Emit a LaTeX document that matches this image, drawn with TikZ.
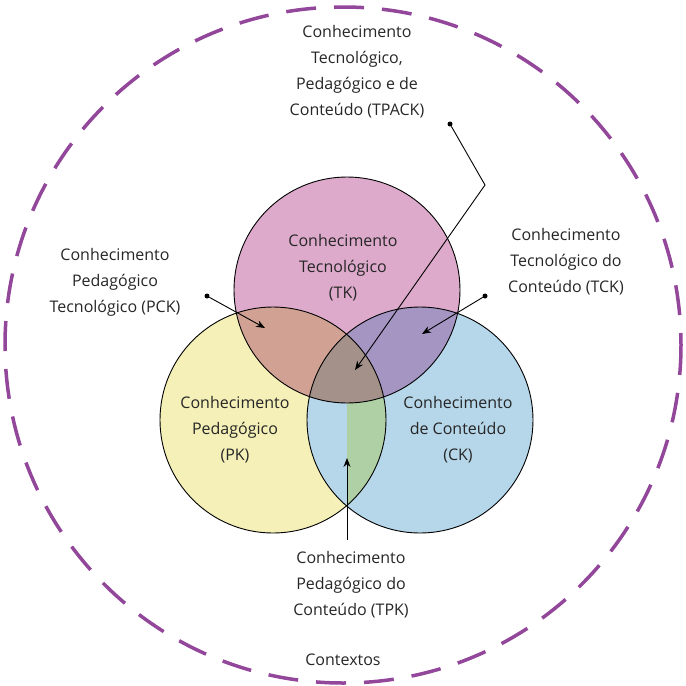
\documentclass[tikz,border=0pt]{standalone}
\usepackage{fontspec}
\setmainfont{Open Sans}
\usetikzlibrary{arrows.meta}
\definecolor{tkfill}{RGB}{222,170,203}
\definecolor{pkfill}{RGB}{244,240,183}
\definecolor{ckfill}{RGB}{182,214,233}
\definecolor{tpfill}{RGB}{209,161,148}
\definecolor{tcfill}{RGB}{164,149,195}
\definecolor{pcfill}{RGB}{175,208,165}
\definecolor{allfill}{RGB}{163,145,138}
\definecolor{ctxline}{RGB}{147,71,154}
\tikzset{
  lbl/.style={align=center, font=\fontsize{16}{26}\selectfont, text=black!85},
  ptr/.style={-{Stealth[length=9pt,width=7pt]}, line width=0.9pt},
  dot/.style={circle, fill=black, inner sep=0pt, minimum size=5pt}
}
\begin{document}
\begin{tikzpicture}[x=1pt,y=-1pt]
\useasboundingbox (0,0) rectangle (686,686);
\draw [ctxline, line width=3.5pt, dash pattern=on 30pt off 18pt] (343,345) circle (338);
% circles and their overlaps
\fill [tkfill] (347,290) circle (113);
\fill [pkfill] (273,420) circle (113);
\fill [ckfill] (420,420) circle (113);
\begin{scope}
\clip (347,290) circle (113);
\fill [tpfill] (273,420) circle (113);
\fill [tcfill] (420,420) circle (113);
\clip (273,420) circle (113);
\fill [allfill] (420,420) circle (113);
\end{scope}
\begin{scope}
\clip (273,420) circle (113);
\clip (420,420) circle (113);
\fill [pcfill] (347,290) rectangle (600,600);
\fill [allfill] (347,290) circle (113);
\end{scope}
\draw [line width=0.9pt] (347,290) circle (113);
\draw [line width=0.9pt] (273,420) circle (113);
\draw [line width=0.9pt] (420,420) circle (113);
% labels
\node (tk) [lbl] at (343,268) {Conhecimento\\Tecnológico\\(TK)};
\node (pk) [lbl] at (235,430) {Conhecimento\\Pedagógico\\(PK)};
\node (ck) [lbl] at (458,430) {Conhecimento\\de Conteúdo\\(CK)};
\node (tpack) [lbl] at (357,72) {Conhecimento\\Tecnológico,\\Pedagógico e de\\Conteúdo (TPACK)};
\node (pck) [lbl] at (115,282) {Conhecimento\\Pedagógico\\Tecnológico (PCK)};
\node (tck) [lbl] at (566,262) {Conhecimento\\Tecnológico do\\Conteúdo (TCK)};
\node (tpk) [lbl] at (351,585) {Conhecimento\\Pedagógico do\\Conteúdo (TPK)};
\node (ctx) [lbl] at (343,660) {Contextos};
% pointers
\node (d1) [dot] at (450,124) {};
\node (d2) [dot] at (207,296) {};
\node (d3) [dot] at (485,296) {};
\coordinate (bend) at (485,185);
\coordinate (t1) at (355,370);
\coordinate (t2) at (265,328);
\coordinate (t3) at (422,334);
\coordinate (s4) at (347,540);
\coordinate (t4) at (347,458);
\draw [ptr] (d1) -- (bend) -- (t1);
\draw [ptr] (d2) -- (t2);
\draw [ptr] (d3) -- (t3);
\draw [ptr] (s4) -- (t4);
\end{tikzpicture}
\end{document}
